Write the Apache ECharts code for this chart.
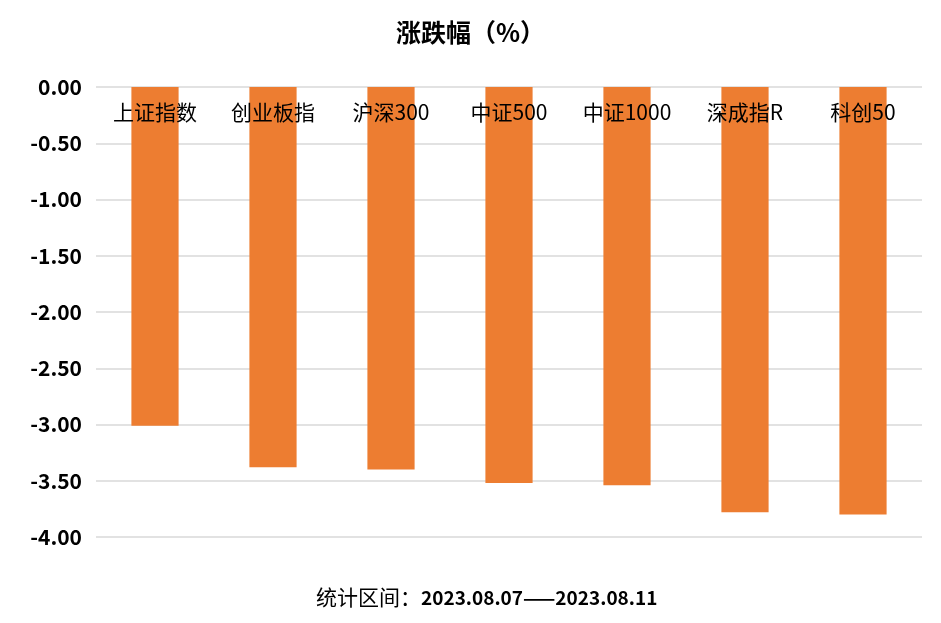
<!DOCTYPE html>
<html><head><meta charset="utf-8">
<script src="https://cdn.jsdelivr.net/npm/echarts@6/dist/echarts.min.js"></script>
<style>html,body{margin:0;padding:0;background:#fff}#c{width:941px;height:623px}</style>
</head><body><div id="c"></div>
<script>
const categories = ['上证指数','创业板指','沪深300','中证500','中证1000','深成指R','科创50'];
const values = [-3.01, -3.38, -3.40, -3.52, -3.54, -3.78, -3.80];
const chartTitle = '涨跌幅（%）';
const periodLabel = '统计区间：';
const periodRange = '2023.08.07——2023.08.11';
const FONT = '"Noto Sans CJK SC", "Noto Sans", sans-serif';
const chart = echarts.init(document.getElementById('c'));
chart.setOption({
  animation: false,
  textStyle: {fontFamily: FONT},
  title: [{
    text: chartTitle, left: 'center', top: 15,
    textStyle: {fontSize: 25, fontWeight: 'bold', color: '#000', fontFamily: FONT}
  }, {
    text: '{a|' + periodLabel + '}{b|' + periodRange + '}',
    left: 311, top: 582,
    textStyle: {rich: {
      a: {fontSize: 21, fontWeight: 'normal', color: '#000', fontFamily: FONT},
      b: {fontSize: 19, fontWeight: 'bold', color: '#000', fontFamily: FONT}
    }}
  }],
  grid: {left: 96, right: 19, top: 87, bottom: 86},
  xAxis: {
    type: 'category', data: categories, position: 'top', z: 10,
    axisLine: {show: false}, axisTick: {show: false},
    axisLabel: {inside: true, margin: 15, fontSize: 21, color: '#000', fontFamily: FONT}
  },
  yAxis: {
    type: 'value', min: -4, max: 0, interval: 0.5,
    axisLine: {show: false}, axisTick: {show: false},
    axisLabel: {formatter: v => v.toFixed(2), fontSize: 21, fontWeight: 'bold', color: '#000', margin: 14, fontFamily: FONT},
    splitLine: {lineStyle: {color: '#d9d9d9', width: 1.5}}
  },
  series: [{
    type: 'bar', data: values, barWidth: '40%', z: 2,
    itemStyle: {color: '#ED7D31'}
  }]
});
</script></body></html>
